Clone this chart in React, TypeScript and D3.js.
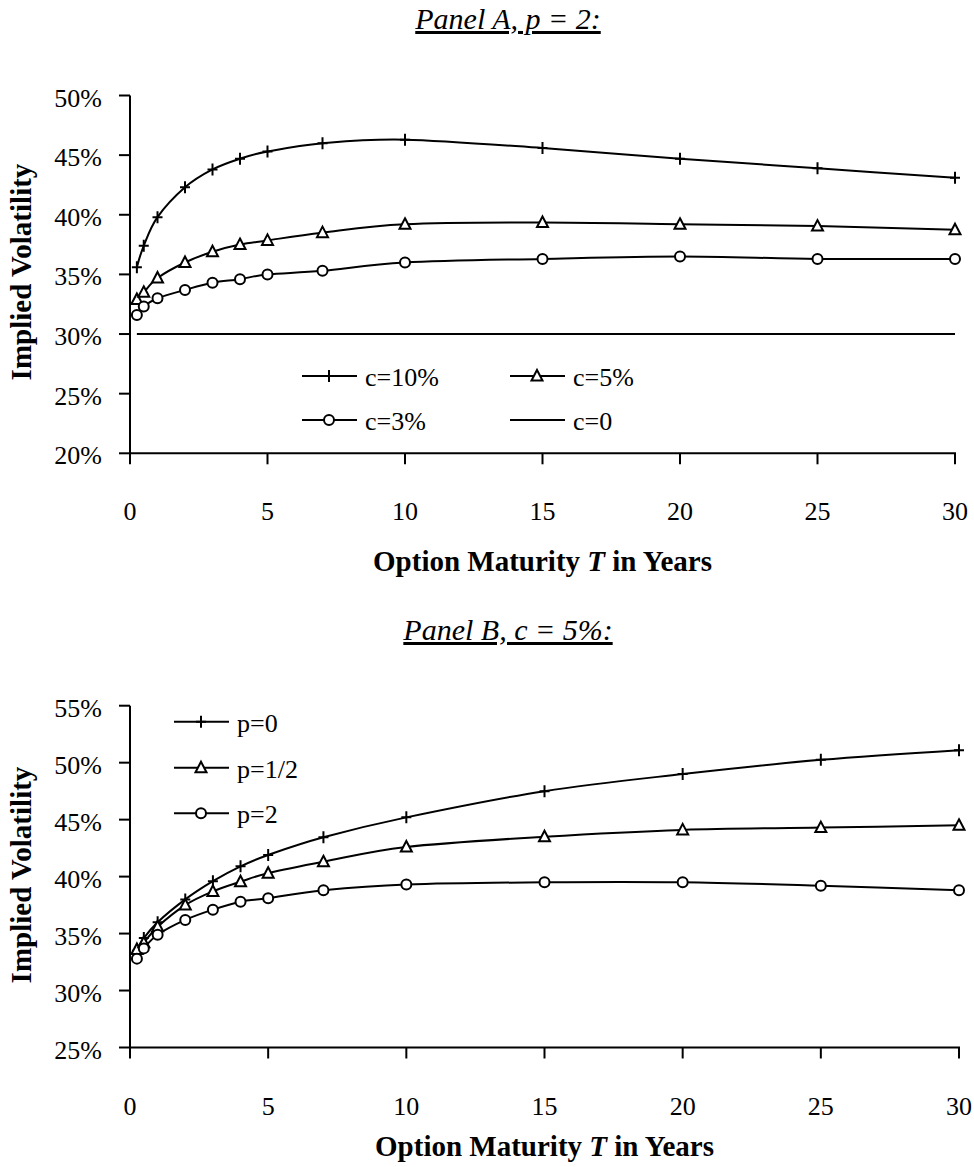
import React from 'react';
import * as d3 from 'd3';

// ---------- data ----------
const maturities = [0.25, 0.5, 1, 2, 3, 4, 5, 7, 10, 15, 20, 25, 30];

const panelANames = ['c=10%', 'c=5%', 'c=3%', 'c=0'];
const volC10 = [35.6, 37.4, 39.8, 42.3, 43.8, 44.7, 45.3, 46.0, 46.3, 45.6, 44.7, 43.9, 43.1];
const volC5 = [32.9, 33.5, 34.7, 36.0, 36.9, 37.5, 37.85, 38.5, 39.2, 39.35, 39.2, 39.05, 38.75];
const volC3 = [31.6, 32.3, 33.0, 33.7, 34.3, 34.6, 35.0, 35.3, 36.0, 36.3, 36.5, 36.3, 36.3];
const volC0 = [30, 30, 30, 30, 30, 30, 30, 30, 30, 30, 30, 30, 30];

const panelBNames = ['p=0', 'p=1/2', 'p=2'];
const volP0 = [33.5, 34.6, 36.0, 38.0, 39.6, 40.9, 41.9, 43.45, 45.2, 47.5, 49.0, 50.25, 51.1];
const volPHalf = [33.6, 34.2, 35.6, 37.5, 38.7, 39.55, 40.3, 41.3, 42.6, 43.5, 44.1, 44.3, 44.5];
const volP2 = [32.8, 33.7, 34.9, 36.2, 37.1, 37.8, 38.1, 38.8, 39.3, 39.5, 39.5, 39.2, 38.8];

const xTicks = [0, 5, 10, 15, 20, 25, 30];
const yTicksA = [20, 25, 30, 35, 40, 45, 50];
const yTicksB = [25, 30, 35, 40, 45, 50, 55];

const titleA = 'Panel A, p = 2:';
const titleB = 'Panel B, c = 5%:';
const yTitle = 'Implied Volatility';

// ---------- style ----------
const FONT = '"Liberation Serif", "Times New Roman", Times, serif';
const TICK_FS = 26;
const LEG_FS = 26;
const AXT_FS = 29;

type Marker = 'plus' | 'triangle' | 'circle' | 'none';

function MarkerShape({ type, x, y }: { type: Marker; x: number; y: number }) {
  if (type === 'plus') {
    return (
      <path d={`M${x - 5},${y}H${x + 5}M${x},${y - 6}V${y + 6}`} stroke="#000" strokeWidth={2} fill="none" />
    );
  }
  if (type === 'triangle') {
    return (
      <path
        d={`M${x},${y - 6}L${x + 5.5},${y + 4.5}L${x - 5.5},${y + 4.5}Z`}
        stroke="#000"
        strokeWidth={2}
        fill="#fff"
      />
    );
  }
  if (type === 'circle') {
    return <circle cx={x} cy={y} r={5} stroke="#000" strokeWidth={2} fill="#fff" />;
  }
  return null;
}

interface Series {
  name: string;
  values: number[];
  marker: Marker;
}

interface PanelProps {
  title: string;
  titleBaseline: number;
  xRange: [number, number];
  yRange: [number, number];
  yDomain: [number, number];
  yTicks: number[];
  series: Series[];
  legend: { x: number; y: number }[];
  xTitleBaseline: number;
  yTitleCenter: number;
}

function Panel(p: PanelProps) {
  const x = d3.scaleLinear().domain([0, 30]).range(p.xRange);
  const y = d3.scaleLinear().domain(p.yDomain).range(p.yRange);
  const line = d3
    .line<[number, number]>()
    .x((d) => x(d[0]))
    .y((d) => y(d[1]))
    .curve(d3.curveCatmullRom.alpha(0));
  const x0 = p.xRange[0];
  const yBottom = p.yRange[0];
  const yTop = p.yRange[1];
  const centerX = (p.xRange[0] + p.xRange[1]) / 2;

  return (
    <g>
      <text
        x={508}
        y={p.titleBaseline}
        textAnchor="middle"
        fontFamily={FONT}
        fontStyle="italic"
        fontSize={30}
        style={{ textDecoration: 'underline' }}
      >
        {p.title}
      </text>

      {/* series */}
      {p.series.map((s) => {
        const pts: [number, number][] = maturities.map((t, i) => [t, s.values[i]]);
        return (
          <g key={s.name}>
            <path d={line(pts) || ''} fill="none" stroke="#000" strokeWidth={2} />
            {pts.map((d, i) => (
              <MarkerShape key={i} type={s.marker} x={x(d[0])} y={y(d[1])} />
            ))}
          </g>
        );
      })}

      {/* axes */}
      <line x1={x0} x2={x0} y1={yTop} y2={yBottom + 1} stroke="#000" strokeWidth={2} />
      {p.yTicks.map((t) => (
        <g key={t}>
          <line x1={x0 - 11} x2={x0} y1={y(t)} y2={y(t)} stroke="#000" strokeWidth={2} />
          <text x={102} y={y(t) + 11} textAnchor="end" fontFamily={FONT} fontSize={TICK_FS}>
            {t + '%'}
          </text>
        </g>
      ))}
      <line x1={x0} x2={p.xRange[1] + 1} y1={yBottom} y2={yBottom} stroke="#000" strokeWidth={2} />
      {xTicks.map((t) => (
        <g key={t}>
          <line x1={x(t)} x2={x(t)} y1={yBottom} y2={yBottom + 11} stroke="#000" strokeWidth={2} />
          <text x={x(t)} y={yBottom + 67} textAnchor="middle" fontFamily={FONT} fontSize={TICK_FS}>
            {t}
          </text>
        </g>
      ))}

      {/* axis titles */}
      <text
        x={centerX}
        y={p.xTitleBaseline}
        textAnchor="middle"
        fontFamily={FONT}
        fontWeight="bold"
        fontSize={AXT_FS}
      >
        Option Maturity <tspan fontStyle="italic">T</tspan> in Years
      </text>
      <text
        transform={`translate(31,${p.yTitleCenter}) rotate(-90)`}
        textAnchor="middle"
        fontFamily={FONT}
        fontWeight="bold"
        fontSize={AXT_FS}
      >
        {yTitle}
      </text>

      {/* legend */}
      {p.series.map((s, i) => {
        const L = p.legend[i];
        return (
          <g key={'leg' + s.name}>
            <line x1={L.x} x2={L.x + 55} y1={L.y} y2={L.y} stroke="#000" strokeWidth={2} />
            <MarkerShape type={s.marker} x={L.x + 27} y={L.y} />
            <text x={L.x + 63} y={L.y + 10} fontFamily={FONT} fontSize={LEG_FS}>
              {s.name}
            </text>
          </g>
        );
      })}
    </g>
  );
}

export default function App() {
  const seriesA: Series[] = [
    { name: panelANames[0], values: volC10, marker: 'plus' },
    { name: panelANames[1], values: volC5, marker: 'triangle' },
    { name: panelANames[2], values: volC3, marker: 'circle' },
    { name: panelANames[3], values: volC0, marker: 'none' },
  ];
  const seriesB: Series[] = [
    { name: panelBNames[0], values: volP0, marker: 'plus' },
    { name: panelBNames[1], values: volPHalf, marker: 'triangle' },
    { name: panelBNames[2], values: volP2, marker: 'circle' },
  ];
  return (
    <svg
      width={974}
      height={1167}
      style={{ position: 'absolute', left: 0, top: 0, background: '#fff' }}
    >
      <rect width={974} height={1167} fill="#fff" />
      <Panel
        title={titleA}
        titleBaseline={29}
        xRange={[130, 955]}
        yRange={[453.3, 95.5]}
        yDomain={[20, 50]}
        yTicks={yTicksA}
        series={seriesA}
        legend={[
          { x: 302, y: 376 },
          { x: 510, y: 376 },
          { x: 302, y: 420 },
          { x: 510, y: 420 },
        ]}
        xTitleBaseline={571}
        yTitleCenter={272}
      />
      <Panel
        title={titleB}
        titleBaseline={640}
        xRange={[130, 959]}
        yRange={[1047.5, 705.7]}
        yDomain={[25, 55]}
        yTicks={yTicksB}
        series={seriesB}
        legend={[
          { x: 174, y: 721.7 },
          { x: 174, y: 767.7 },
          { x: 174, y: 813.3 },
        ]}
        xTitleBaseline={1156}
        yTitleCenter={875}
      />
    </svg>
  );
}
